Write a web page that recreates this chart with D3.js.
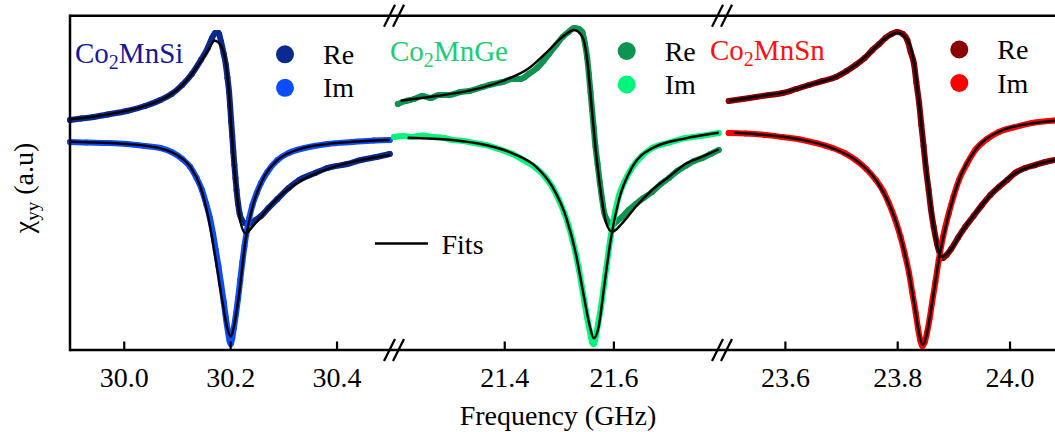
<!DOCTYPE html>
<html><head><meta charset="utf-8">
<script src="https://cdn.jsdelivr.net/npm/d3@7"></script>
<style>body{margin:0;background:#fff}svg{display:block}text{font-family:"Liberation Serif","Times New Roman",serif}</style>
</head><body><svg id="c" width="1055" height="432"></svg>
<script>
// ---- data (frequency GHz, chi a.u.) ----
const materials = ["Co2MnSi", "Co2MnGe", "Co2MnSn"];
const tickValues = [[30.0, 30.2, 30.4], [21.4, 21.6], [23.6, 23.8, 24.0]];

const siReData = [[29.899,230],[29.92,231.5],[29.943,233],[29.97,235.5],[30.006,239],[30.04,244],[30.069,250],[30.09,256],[30.11,265],[30.128,276],[30.145,290],[30.158,302],[30.166,312],[30.172,317],[30.178,317],[30.183,308],[30.188,296],[30.192,285],[30.195,272],[30.198,258],[30.200,244],[30.202,228],[30.204,214],[30.206,198],[30.208,185],[30.210,172],[30.212,160],[30.215,146],[30.218,136],[30.222,130],[30.228,127],[30.238,127],[30.248,130],[30.258,134],[30.272,142],[30.289,151],[30.31,162],[30.33,170],[30.36,177],[30.383,182],[30.42,186],[30.446,190],[30.475,193],[30.5,196]];
const siImData = [[29.899,208],[29.93,207.5],[29.97,207],[30.006,206],[30.04,204],[30.069,202],[30.09,198],[30.11,191],[30.125,183],[30.137,172],[30.147,160],[30.155,146],[30.162,132],[30.168,116],[30.173,100],[30.178,84],[30.183,66],[30.188,48],[30.192,32],[30.196,18],[30.199,9],[30.201,6],[30.204,12],[30.207,22],[30.211,36],[30.215,52],[30.219,70],[30.223,88],[30.227,104],[30.231,118],[30.236,132],[30.242,145],[30.25,157],[30.258,167],[30.27,178],[30.289,190],[30.31,197],[30.34,202],[30.383,206],[30.43,208],[30.47,209.5],[30.5,210]];
const siReFit = [[29.899,230.7],[29.943,233.3],[30.006,239.3],[30.069,250],[30.100,260],[30.119,270],[30.138,283.3],[30.157,298.3],[30.171,309.3],[30.182,305],[30.192,286.7],[30.198,256.7],[30.202,223.3],[30.207,186.7],[30.214,150],[30.220,126.7],[30.229,116.7],[30.242,123.3],[30.258,133.3],[30.289,151.7],[30.320,165],[30.383,181],[30.446,190],[30.500,195]];
const siImFit = [[29.899,208.3],[30.006,206],[30.069,201.7],[30.100,195],[30.125,183.3],[30.144,163.3],[30.160,130],[30.173,90],[30.185,50],[30.194,23.3],[30.201,13.3],[30.207,23.3],[30.217,56.7],[30.229,110],[30.242,143.3],[30.258,166.7],[30.289,190],[30.320,199],[30.383,206],[30.500,210]];

const geReData = [[21.205,246],[21.22,249],[21.235,251],[21.25,254],[21.265,252],[21.28,255],[21.3,255],[21.32,258],[21.336,259],[21.36,263],[21.38,266],[21.397,268],[21.415,271],[21.43,271],[21.445,276],[21.46,282],[21.472,289],[21.482,296],[21.495,305],[21.507,313],[21.518,318],[21.528,322],[21.537,321],[21.543,318],[21.548,306],[21.552,292],[21.555,276],[21.558,258],[21.561,240],[21.564,222],[21.567,204],[21.571,186],[21.575,168],[21.579,152],[21.583,138],[21.588,130],[21.594,127],[21.6,126],[21.607,129],[21.616,133],[21.628,140],[21.641,146],[21.655,152],[21.671,158],[21.687,166],[21.702,172],[21.717,179],[21.732,184],[21.748,189],[21.763,192],[21.778,196],[21.793,200]];
const geImData = [[21.198,213],[21.215,214],[21.23,213],[21.25,214.5],[21.27,213],[21.29,212],[21.305,210],[21.325,209],[21.345,207],[21.366,205],[21.39,201],[21.415,196],[21.435,190],[21.458,182],[21.475,173],[21.488,163],[21.5,150],[21.51,137],[21.518,124],[21.525,110],[21.531,96],[21.537,80],[21.542,64],[21.547,48],[21.552,32],[21.557,18],[21.561,8],[21.564,6],[21.568,14],[21.572,26],[21.577,42],[21.582,62],[21.587,82],[21.592,102],[21.597,120],[21.603,138],[21.61,154],[21.62,168],[21.635,183],[21.652,194],[21.671,202],[21.7,207],[21.732,212],[21.76,214],[21.793,217]];
const geReFit = [[21.210,249.3],[21.275,254],[21.336,259.3],[21.397,269],[21.445,281.7],[21.482,300],[21.507,313.3],[21.528,320],[21.543,313.3],[21.552,290],[21.558,256.7],[21.564,220],[21.571,183.3],[21.579,150],[21.587,126.7],[21.598,118.3],[21.616,126.7],[21.641,143.3],[21.671,160],[21.702,173.3],[21.732,186],[21.763,193.3],[21.793,200.7]];
const geImFit = [[21.223,212.3],[21.305,210],[21.366,205],[21.415,196.7],[21.458,183.3],[21.488,163.3],[21.513,133.3],[21.531,96.7],[21.546,53.3],[21.557,23.3],[21.564,11.7],[21.573,23.3],[21.583,63.3],[21.595,110],[21.610,150],[21.635,183.3],[21.671,201.7],[21.732,211.7],[21.793,217.3]];

const snReData = [[23.5,249],[23.525,251],[23.548,253],[23.572,255],[23.596,257],[23.62,261],[23.643,265],[23.667,269],[23.691,273],[23.71,279],[23.726,285],[23.742,292],[23.756,300],[23.768,306],[23.779,312],[23.79,316],[23.8,318],[23.81,316],[23.818,310],[23.824,298],[23.83,286],[23.834,268],[23.839,247],[23.843,225],[23.847,204],[23.851,182],[23.856,160],[23.86,141],[23.865,123],[23.871,106],[23.877,95],[23.882,92],[23.888,95],[23.896,101],[23.908,112],[23.921,123],[23.936,134],[23.951,145],[23.966,155],[23.981,163],[23.996,170],[24.01,177],[24.028,182],[24.046,185],[24.064,188],[24.081,190]];
const snImData = [[23.5,217],[23.53,216.5],[23.566,215],[23.595,213],[23.625,210.7],[23.655,207],[23.685,202],[23.706,197],[23.726,190],[23.745,181],[23.762,170],[23.775,159],[23.785,147],[23.796,131],[23.806,113],[23.814,95],[23.821,77],[23.827,57],[23.833,37],[23.837,22],[23.841,10],[23.845,4],[23.849,8],[23.853,17],[23.858,32],[23.862,47],[23.868,68],[23.874,90],[23.882,114],[23.892,137],[23.9,153],[23.91,170],[23.924,186],[23.939,200],[23.96,211],[23.981,218],[24.01,223],[24.04,227],[24.081,229.5]];
const snReFit = [[23.501,249.3],[23.548,253.3],[23.596,257.3],[23.643,265],[23.691,273.3],[23.726,285],[23.756,300],[23.779,311.7],[23.800,317.3],[23.818,310],[23.830,286.7],[23.839,246.7],[23.847,203.3],[23.856,160],[23.865,123.3],[23.879,93.3],[23.892,98.3],[23.921,123.3],[23.951,145],[23.981,163.3],[24.010,176.7],[24.046,185],[24.081,190]];
const snImFit = [[23.510,217.3],[23.566,215],[23.625,210.7],[23.685,201.7],[23.726,190],[23.762,170],[23.785,146.7],[23.806,113.3],[23.821,76.7],[23.833,36.7],[23.840,13.3],[23.846,5],[23.853,16.7],[23.862,46.7],[23.874,90],[23.892,136.7],[23.910,170],[23.939,200],[23.981,218.3],[24.040,226.7],[24.081,229.3]];

const reColors = ["#0a2a8f", "#0e9350", "#8b0000"];
const imColors = ["#0a4dff", "#00f57c", "#ff0000"];
const labelColors = ["#17179a", "#22cc72", "#ff1010"];

// ---- layout ----
const svg = d3.select("#c");
const L = 70, R = 1055, T = 15.7, B = 350;
const y = d3.scaleLinear().domain([0, 334.3]).range([B, T]);
const panelDomains = [[29.899, 30.508], [21.198, 21.799], [23.488, 24.081]];
const panelRanges = [[L, 394], [394, 722], [722, R]];
const xs = panelDomains.map((d, i) => d3.scaleLinear().domain(d).range(panelRanges[i]));

const series = [
  {re: siReData, im: siImData, reFit: siReFit, imFit: siImFit},
  {re: geReData, im: geImData, reFit: geReFit, imFit: geImFit},
  {re: snReData, im: snImData, reFit: snReFit, imFit: snImFit}
];

const g = svg.append("g");
series.forEach((s, i) => {
  const x = xs[i];
  const line = d3.line().x(d => x(d[0])).y(d => y(d[1])).curve(d3.curveMonotoneX);
  [[s.re, reColors[i]], [s.im, imColors[i]]].forEach(([data, col]) => {
    g.append("path").attr("d", line(data)).attr("fill", "none").attr("stroke", col)
      .attr("stroke-width", 6).attr("stroke-linecap", "round").attr("stroke-linejoin", "round");
    g.selectAll(null).data(data).enter().append("circle")
      .attr("cx", d => x(d[0])).attr("cy", d => y(d[1])).attr("r", 3).attr("fill", col);
  });
  [s.reFit, s.imFit].forEach(data => {
    g.append("path").attr("d", line(data)).attr("fill", "none").attr("stroke", "#000")
      .attr("stroke-width", 2.4).attr("stroke-linejoin", "round");
  });
});

// axes
const ax = svg.append("g").attr("stroke", "#000").attr("stroke-width", 2.5).attr("fill", "none");
ax.append("line").attr("x1", L).attr("x2", L).attr("y1", T - 1.2).attr("y2", B + 1.2);
ax.append("line").attr("x1", L).attr("x2", R).attr("y1", B).attr("y2", B);
ax.append("line").attr("x1", L).attr("x2", R).attr("y1", T).attr("y2", T);

xs.forEach((x, i) => {
  const a = d3.axisBottom(x).tickValues(tickValues[i]).tickFormat(d3.format(".1f")).tickSizeInner(-8.5).tickSizeOuter(0).tickPadding(17);
  const gg = svg.append("g").attr("transform", `translate(0,${B})`).call(a);
  gg.select(".domain").remove();
  gg.selectAll(".tick line").attr("stroke", "#000").attr("stroke-width", 2.2);
  gg.selectAll(".tick text").attr("font-size", 28).attr("fill", "#000")
    .attr("font-family", '"Liberation Serif","Times New Roman",serif');
});

// break marks
[394, 722].forEach(bx => {
  [T, B].forEach(by => {
    [-4.5, 4.5].forEach(off => {
      svg.append("line").attr("x1", bx + off - 5.5).attr("y1", by + 11)
        .attr("x2", bx + off + 5.5).attr("y2", by - 11)
        .attr("stroke", "#000").attr("stroke-width", 2.3);
    });
  });
});

// material labels
const labelPos = [[75, 63], [390, 61], [710, 60]];
materials.forEach((m, i) => {
  const t = svg.append("text").attr("x", labelPos[i][0]).attr("y", labelPos[i][1])
    .attr("font-size", 29).attr("fill", labelColors[i]);
  t.append("tspan").text("Co");
  t.append("tspan").text("2").attr("font-size", 20).attr("dy", 6);
  t.append("tspan").text(m.slice(3)).attr("dy", -6);
});

// legends
const legPos = [[285, 54.3], [626.7, 51], [959.3, 49.5]];
legPos.forEach((p, i) => {
  [["Re", reColors[i], 0], ["Im", imColors[i], 33.5]].forEach(([lab, col, dy]) => {
    svg.append("circle").attr("cx", p[0]).attr("cy", p[1] + dy).attr("r", 9).attr("fill", col);
    svg.append("text").attr("x", p[0] + 38).attr("y", p[1] + dy + 9.5).attr("font-size", 28)
      .attr("fill", "#000").text(lab);
  });
});

// Fits legend
svg.append("line").attr("x1", 375).attr("x2", 428).attr("y1", 243.5).attr("y2", 243.5)
  .attr("stroke", "#000").attr("stroke-width", 2.4);
svg.append("text").attr("x", 441.5).attr("y", 253.5).attr("font-size", 28).attr("fill", "#000").text("Fits");

// axis titles
svg.append("text").attr("x", 558).attr("y", 425).attr("text-anchor", "middle")
  .attr("font-size", 28).attr("fill", "#000").text("Frequency (GHz)");
const yl = svg.append("text").attr("transform", "translate(33,188) rotate(-90)")
  .attr("text-anchor", "middle").attr("font-size", 28).attr("fill", "#000");
yl.append("tspan").text("χ");
yl.append("tspan").text("yy").attr("font-size", 19).attr("dy", 6);
yl.append("tspan").text(" (a.u)").attr("dy", -6);
</script></body></html>
